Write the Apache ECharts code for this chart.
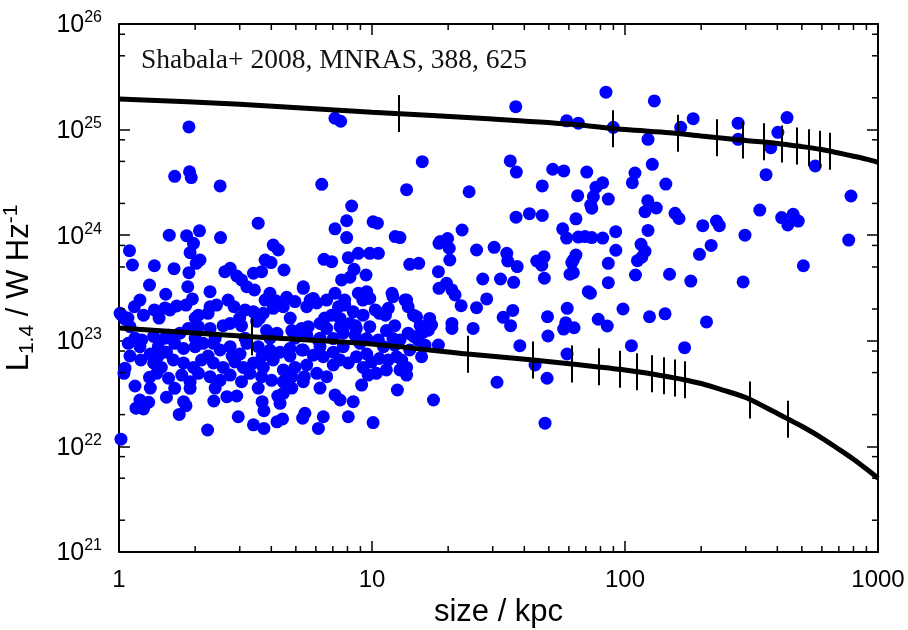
<!DOCTYPE html>
<html><head><meta charset="utf-8">
<script src="https://cdn.jsdelivr.net/npm/echarts@6/dist/echarts.min.js"></script>
<style>html,body{margin:0;padding:0;background:#fff}#c{width:908px;height:630px}</style>
</head><body><div id="c"></div>
<script>
// ---------------- data ----------------
const xRange = [1, 1000];
const yRange = [1e21, 1e26];
const minorXTicks = [2,3,4,5,6,7,8,9,20,30,40,50,60,70,80,90,200,300,400,500,600,700,800,900];
const minorYTicks = [2e21,5e21,8e21,2e22,5e22,8e22,2e23,5e23,8e23,2e24,5e24,8e24,2e25,5e25,8e25];

// model tracks (size kpc, luminosity W/Hz)
const upperTrackX = [1,3,10,30,60,100,150,200,300,400,500,600,700,800,900,1000];
const upperTrackY = [1.95e25,1.74e25,1.46e25,1.26e25,1.13e25,1.0e25,9.35e24,8.7e24,7.9e24,7.4e24,6.9e24,6.47e24,6.0e24,5.6e24,5.25e24,4.9e24];
const lowerTrackX = [1,3.36,10,23.9,43.4,61.6,100,150,200,250,300,400,442,500,600,700,800,900,1000];
const lowerTrackY = [1.32e23,1.09e23,9.3e22,7.5e22,6.58e22,6.03e22,5.3e22,4.55e22,3.94e22,3.35e22,2.9e22,2.05e22,1.81e22,1.55e22,1.2e22,9.4e21,7.55e21,6.1e21,5.0e21];

// time markers along tracks
const upperMarkX = [12.8,89.4,162.5,230,294,355,416,477,533,590,646];
const upperMarkY = [1.42e25,1.02e25,9.23e24,8.38e24,7.96e24,7.67e24,7.31e24,7.0e24,6.74e24,6.51e24,6.23e24];
const lowerMarkX = [3.36,23.9,43.4,61.6,78.9,95.5,111.9,127.5,142.6,158,173,312,442];
const lowerMarkY = [1.09e23,7.47e22,6.58e22,6.03e22,5.69e22,5.37e22,5.1e22,4.88e22,4.66e22,4.44e22,4.27e22,2.75e22,1.81e22];

// observed sources [size kpc, L1.4 W/Hz]
const sources = [
[1.89,1.06e25],[1.66,3.61e24],[1.90,3.99e24],[1.93,3.51e24],[2.51,2.93e24],[6.33,3.03e24],[3.55,1.30e24],[1.58,1.0e24],[1.85,0.99e24],[2.08,1.10e24],[2.52,0.95e24],
[7.14,1.28e25],[7.52,1.20e25],[37.0,1.65e25],[58.8,1.21e25],[15.8,4.97e24],[13.7,2.70e24],[24.2,2.58e24],[35.2,5.05e24],[37.2,3.96e24],[51.8,4.21e24],[57.3,4.06e24],[47.1,2.93e24],[8.31,1.89e24],[7.94,1.37e24],[7.14,1.15e24],[10.1,1.34e24],[10.5,1.30e24],[37.1,1.48e24],[41.9,1.60e24],[47.1,1.54e24],[56.7,1.15e24],[22.7,1.12e24],[7.94,0.95e24],[12.35,0.97e24],[12.9,0.95e24],[18.6,0.87e24],[19.9,0.93e24],[58.8,0.94e24],
[84.1,2.26e25],[130.6,1.87e25],[65.4,1.15e25],[89.9,1.05e25],[123.3,8.09e24],[166,1.05e25],[186,1.27e25],[280,1.15e25],[280,8.09e24],[437,1.30e25],[402,9.43e24],[377,6.74e24],[361,3.74e24],[565,4.52e24],[782,2.35e24],[70.6,3.96e24],[109.5,3.88e24],[106.9,3.14e24],[128.2,4.69e24],[145,3.05e24],[81.6,3.14e24],[76.8,2.85e24],[75.0,2.32e24],[73.2,1.93e24],[73.9,1.80e24],[85.9,2.20e24],[65.0,2.37e24],[64.0,1.43e24],[65.4,0.96e24],[69.5,0.97e24],[73.9,0.95e24],[81.6,0.94e24],[91.9,1.08e24],[92,0.72e24],[120,1.67e24],[123,2.12e24],[133,1.81e24],[123.3,1.11e24],[115.7,0.82e24],[157.7,1.61e24],[163.5,1.44e24],[203,1.23e24],[230,1.36e24],[236,1.23e24],[298,1.0e24],[219,0.80e24],[341,1.73e24],[416,1.47e24],[440,1.25e24],[462,1.58e24],[484,1.36e24],[766,0.90e24],
[507,5.14e23],[293,3.61e23],[197,6.59e23],[182,3.68e23],[150,4.27e23],[210,1.51e23],[172,8.61e22],[144,1.80e23],[125,1.69e23],[98.2,2.00e23],[106,9.0e22],[110,4.20e23],[85.9,3.55e23],[85.9,5.42e23],[120,7.05e23],[116.5,6.18e23],[112,5.74e23],[64.0,6.49e23],[62.5,5.82e23],[61.6,5.50e23],[60.6,4.27e23],[62.5,4.42e23],[71.6,2.92e23],[73.0,2.82e23],[59.1,2.03e23],[58.3,1.48e23],[57.2,1.29e23],[62.9,1.33e23],[78.4,1.60e23],[85.1,1.38e23],[59.0,7.50e22],[49.6,1.11e23],[49.4,1.69e23],[48.0,3.91e23],[46.9,5.19e23],[47.9,6.26e23],[44.8,5.70e23],[44.1,5.90e22],[49.2,4.42e22],[48.3,1.66e22],[31.2,4.05e22],[38.4,9.0e22],[35.3,1.39e23],[33.0,1.67e23],[36.0,1.94e23],[32.2,3.85e23],[36.3,3.58e23],[30.4,7.67e23],[34.1,6.74e23],[34.4,5.70e23],[37.5,5.04e23],
[1.97,8.37e23],[1.91,6.83e23],[2.09,5.82e23],[2.02,5.42e23],[1.10,7.13e23],[1.13,5.22e23],[1.38,5.14e23],[1.65,4.82e23],[1.89,4.42e23],[1.32,3.37e23],[1.87,3.25e23],[1.53,2.76e23],[1.15,2.10e23],[1.95,2.49e23],[1.69,2.14e23],[1.84,2.18e23],[1.38,1.96e23],[1.52,2.05e23],[1.59,1.96e23],[1.25,1.75e23],[1.01,1.82e23],[1.056,1.60e23],[2.29,2.10e23],[2.43,2.18e23],[2.25,1.82e23],[2.85,2.10e23],[2.06,1.75e23],[2.75,4.86e23],[2.62,4.51e23],[2.92,4.11e23],[3.05,3.77e23],[3.20,3.25e23],[3.40,4.36e23],[3.43,3.03e23],[3.66,4.51e23],[3.78,5.82e23],[3.99,5.50e23],[4.07,8.07e23],[4.26,7.24e23],[4.49,4.68e23],[4.60,2.58e23],[4.16,2.40e23],[4.46,2.10e23],[4.96,2.35e23],[5.52,2.10e23],[5.35,3.14e23],
[1.088,9.46e22],[1.23,1.02e23],[1.22,6.58e22],[1.056,5.50e22],[1.046,4.92e22],[1.157,3.73e22],[1.32,4.51e22],[1.21,2.75e22],[1.167,2.30e22],[1.25,2.26e22],[1.31,2.62e22],[1.54,2.92e22],[1.66,3.55e22],[1.73,2.01e22],[1.80,2.65e22],[1.84,2.43e22],[1.91,3.55e22],[2.24,1.43e22],[2.37,2.69e22],[2.67,2.96e22],[2.92,3.0e22],[2.96,1.91e22],[3.40,1.60e22],[3.74,1.48e22],[3.68,2.65e22],[3.74,2.18e22],[4.24,3.0e22],[4.33,2.56e22],[4.46,3.18e22],[4.21,1.71e22],[4.43,1.82e22],[5.32,1.85e22],[5.43,2.06e22],[1.018,1.17e22],
[18.4,8.37e23],[20.2,7.52e23],[25.9,7.24e23],[6.46,5.91e23],[6.93,5.61e23],[8.06,6.13e23],[8.83,6.74e23],[9.80,6.74e23],[10.6,6.74e23],[8.49,4.75e23],[9.47,4.20e23],[14.1,5.30e23],[15.3,5.42e23],[18.3,4.51e23],[20.3,5.82e23],[18.4,3.14e23],[19.7,3.50e23],[20.7,3.03e23],[21.3,2.72e23],[27.4,3.85e23],[25.9,2.06e23],[28.4,2.49e23],[22.5,2.15e23],[20.7,1.46e23],[20.7,1.31e23],[25.1,1.31e23],[17.5,2.75e22],[18.3,9.12e22],[15.7,7.06e22],[16.9,1.63e23],[17.2,1.41e23],[16.7,1.26e23],[15.9,1.20e23],[15.2,1.02e23],[13.7,2.43e23],[13.9,2.10e23],[14.6,1.75e23],[15.0,1.69e23],[12.0,2.82e23],[12.1,2.62e23],[11.6,2.03e23],[11.3,1.75e23],[9.53,2.92e23],[8.83,2.82e23],[9.80,2.52e23],[9.2,2.43e23],[10.3,1.96e23],[10.7,1.82e23],[7.58,3.77e23],[8.18,4.0e23],[7.14,2.82e23],[6.62,2.43e23],[7.37,2.10e23],[7.8,2.18e23],[8.43,1.88e23],[9.22,1.75e23],[8.18,1.46e23],[7.48,1.63e23],[6.93,1.75e23],[5.35,3.25e23],[5.86,2.52e23],[6.05,2.28e23],[6.23,1.46e23],
[5.52,1.13e23],[6.14,1.01e23],[6.62,1.31e23],[7.03,1.05e23],[7.69,1.18e23],[8.57,1.13e23],[9.53,1.05e23],[10.6,1.02e23],[12.1,1.05e23],[13.9,1.18e23],
[5.35,8.18e22],[5.86,7.30e22],[6.42,7.06e22],[7.03,7.8e22],[7.48,6.58e22],[8.06,6.17e22],[8.67,7.06e22],[9.53,7.5e22],[9.97,6.3e22],[10.7,6.8e22],[11.6,6.58e22],[12.5,7.06e22],[13.1,6.58e22],[13.7,5.6e22],[14.1,8.18e22],
[7.14,3.07e22],[7.48,2.75e22],[8.43,2.65e22],[8.06,1.91e22],[9.10,3.81e22],[10.1,1.68e22],[12.6,3.42e22],[6.42,1.91e22],[6.14,1.48e22],[9.22,5.6e22],[9.66,4.74e22],[12.9,5.3e22],[13.7,4.74e22],[5.40,4.57e22],[7.03,5.9e22],
[6.23,8.8e22],[7.69,8.8e22],[8.97,9.46e22],[11.1,8.8e22],[12.9,1.02e23],[14.6,1.10e23],[5.60,1.36e23],[7.48,1.36e23],[8.67,1.31e23],[9.80,1.36e23],[11.4,1.25e23],[6.05,4.92e22],[6.62,4.57e22],[10.4,4.92e22],[11.4,5.3e22],
[1.025,1.75e23],[1.105,1.36e23],[1.37,1.10e23],[1.57,1.13e23],[1.74,1.18e23],[1.88,1.31e23],[2.06,1.36e23],[2.29,1.31e23],[2.58,1.39e23],[2.75,1.46e23],[3.05,1.39e23],[3.50,1.53e23],[3.83,1.25e23],[4.21,1.18e23],[4.82,1.25e23],[5.27,1.31e23],
[1.21,8.8e22],[1.33,7.5e22],[1.43,8.8e22],[1.54,7.8e22],[1.66,9.46e22],[1.80,8.45e22],[2.0,8.8e22],[2.15,9.46e22],[2.36,9.46e22],[2.51,8.18e22],[2.75,8.8e22],[3.01,7.5e22],[3.20,9.46e22],[3.55,8.8e22],[3.95,8.18e22],[4.33,7.8e22],[4.74,8.45e22],[5.27,8.18e22],
[1.37,6.17e22],[1.47,5.6e22],[1.64,6.58e22],[1.80,6.17e22],[1.97,5.6e22],[2.12,6.58e22],[2.36,6.17e22],[2.58,5.6e22],[2.87,6.3e22],[3.10,5.6e22],[3.40,6.17e22],[3.72,5.6e22],[4.07,6.58e22],[4.46,5.3e22],[4.96,5.6e22],[5.52,5.9e22],
[1.41,4.92e22],[1.57,4.42e22],[1.77,4.74e22],[1.91,4.1e22],[2.06,4.92e22],[2.29,4.57e22],[2.51,4.22e22],[2.75,4.74e22],[3.05,4.1e22],[3.29,4.92e22],[3.66,4.57e22],[4.01,4.22e22],[4.46,4.1e22],[4.82,4.57e22],[5.35,4.1e22],
[3.15,1.96e23],[3.40,1.88e23],[3.72,1.82e23],[4.07,2.03e23],[2.29,2.92e23],[3.95,2.82e23],
[1.085,1.64e23],[1.44,1.64e23],[2.0,1.64e23],[3.0,1.64e23],[3.6,1.64e23],[4.75,1.64e23],[6.5,1.64e23],
[1.157,1.06e23],[1.52,1.06e23],[2.0,1.06e23],[2.4,1.06e23],[3.15,1.06e23],[3.95,1.06e23],[4.96,1.06e23],[6.23,1.06e23],
[1.105,7.18e22],[1.43,7.18e22],[2.25,7.18e22],[2.8,7.18e22],[3.68,7.18e22],[4.74,7.18e22],
[1.33,3.57e22],[2.4,3.57e22],[3.55,3.57e22],[4.82,3.57e22],[6.23,3.57e22],
[1.21,2.43e23],[2.7,2.43e23],[3.78,2.43e23],[5.7,2.43e23],[7.8,2.43e23],[13.5,2.43e23],
[8.6,1.39e23],[12.3,1.39e23],[15.5,1.39e23],[12.3,9.1e22],[16.2,9.1e22]
];

const annotation = 'Shabala+ 2008, MNRAS, 388, 625';

// ---------------- chart ----------------
const FONT = '"Liberation Sans", Arial, Helvetica, sans-serif';
const chart = echarts.init(document.getElementById('c'), null, {renderer: 'canvas'});

const axisLineStyle = {color: '#000', width: 2};
function xAxisCfg(pos, showLabel) {
  return {
    type: 'log', logBase: 10, min: xRange[0], max: xRange[1], position: pos,
    axisLine: {show: true, onZero: false, lineStyle: axisLineStyle},
    axisTick: {show: true, inside: true, length: 11, lineStyle: {color: '#000', width: 1.5}},
    axisLabel: {show: showLabel, color: '#000', fontSize: 24, fontFamily: FONT, margin: 16,
      formatter: v => String(v)},
    splitLine: {show: false},
    name: showLabel ? 'size / kpc' : '',
    nameLocation: 'middle', nameGap: 35,
    nameTextStyle: {color: '#000', fontSize: 31, fontFamily: FONT}
  };
}
function yAxisCfg(pos, showLabel) {
  return {
    type: 'log', logBase: 10, min: yRange[0], max: yRange[1], position: pos,
    axisLine: {show: true, onZero: false, lineStyle: axisLineStyle},
    axisTick: {show: true, inside: true, length: 11, lineStyle: {color: '#000', width: 1.5}},
    axisLabel: {
      show: showLabel, margin: 17, color: '#000',
      formatter: v => '{b|10}{s|' + Math.round(Math.log10(v)) + '}',
      rich: {
        b: {fontSize: 25, fontFamily: FONT, color: '#000', lineHeight: 28, verticalAlign: 'bottom'},
        s: {fontSize: 16, fontFamily: FONT, color: '#000', lineHeight: 16, verticalAlign: 'top'}
      }
    },
    splitLine: {show: false},
    name: showLabel ? '{n|L}{sub|1.4}{n| / W Hz}{sup|-1}' : '',
    nameLocation: 'middle', nameGap: 81, nameRotate: 90,
    nameTextStyle: {
      rich: {
        n: {fontSize: 31, fontFamily: FONT, color: '#000', lineHeight: 37, verticalAlign: 'middle'},
        sub: {fontSize: 21, fontFamily: FONT, color: '#000', lineHeight: 21, verticalAlign: 'bottom'},
        sup: {fontSize: 21, fontFamily: FONT, color: '#000', lineHeight: 21, verticalAlign: 'top'}
      }
    }
  };
}

function minorXRender(params, api) {
  const x = api.value(0);
  const b = api.coord([x, yRange[0]]);
  const t = api.coord([x, yRange[1]]);
  const st = {stroke: '#000', lineWidth: 1.5};
  return {type: 'group', children: [
    {type: 'line', shape: {x1: b[0], y1: b[1], x2: b[0], y2: b[1] - 6}, style: st},
    {type: 'line', shape: {x1: t[0], y1: t[1], x2: t[0], y2: t[1] + 6}, style: st}
  ]};
}
function minorYRender(params, api) {
  const y = api.value(1);
  const l = api.coord([xRange[0], y]);
  const r = api.coord([xRange[1], y]);
  const st = {stroke: '#000', lineWidth: 1.5};
  return {type: 'group', children: [
    {type: 'line', shape: {x1: l[0], y1: l[1], x2: l[0] + 6, y2: l[1]}, style: st},
    {type: 'line', shape: {x1: r[0], y1: r[1], x2: r[0] - 6, y2: r[1]}, style: st}
  ]};
}
// crisp vertical time markers centred on the track
function markerRender(params, api) {
  const p = api.coord([api.value(0), api.value(1)]);
  const x = Math.round(p[0]);
  return {type: 'line', shape: {x1: x, y1: p[1] - 18.5, x2: x, y2: p[1] + 18.5},
    style: {stroke: '#000', lineWidth: 2}};
}

const zip = (a, b) => a.map((v, i) => [v, b[i]]);

chart.setOption({
  animation: false,
  backgroundColor: '#fff',
  grid: {left: 119, right: 30, top: 24, bottom: 78, containLabel: false, outerBoundsMode: 'none'},
  xAxis: [xAxisCfg('bottom', true), xAxisCfg('top', false)],
  yAxis: [yAxisCfg('left', true), yAxisCfg('right', false)],
  graphic: [{
    type: 'text', left: 141, top: 47,
    style: {text: annotation, font: '27.5px "Liberation Serif", "Times New Roman", serif', fill: '#111'}
  }],
  series: [
    {
      type: 'scatter', data: sources, symbol: 'circle', symbolSize: 13,
      itemStyle: {color: '#0000ff', opacity: 1}, z: 2, silent: true
    },
    {
      type: 'line', data: zip(upperTrackX, upperTrackY), showSymbol: false, smooth: 0.3,
      lineStyle: {color: '#000', width: 5}, z: 3, silent: true
    },
    {
      type: 'line', data: zip(lowerTrackX, lowerTrackY), showSymbol: false, smooth: 0.3,
      lineStyle: {color: '#000', width: 5}, z: 3, silent: true
    },
    {
      type: 'custom', data: zip(upperMarkX, upperMarkY).concat(zip(lowerMarkX, lowerMarkY)),
      renderItem: markerRender, z: 4, silent: true, clip: false
    },
    {
      type: 'custom', data: minorXTicks.map(v => [v, yRange[0]]), renderItem: minorXRender, z: 5, silent: true, clip: false
    },
    {
      type: 'custom', data: minorYTicks.map(v => [xRange[0], v]), renderItem: minorYRender, z: 5, silent: true, clip: false
    }
  ]
});
</script>
</body></html>
